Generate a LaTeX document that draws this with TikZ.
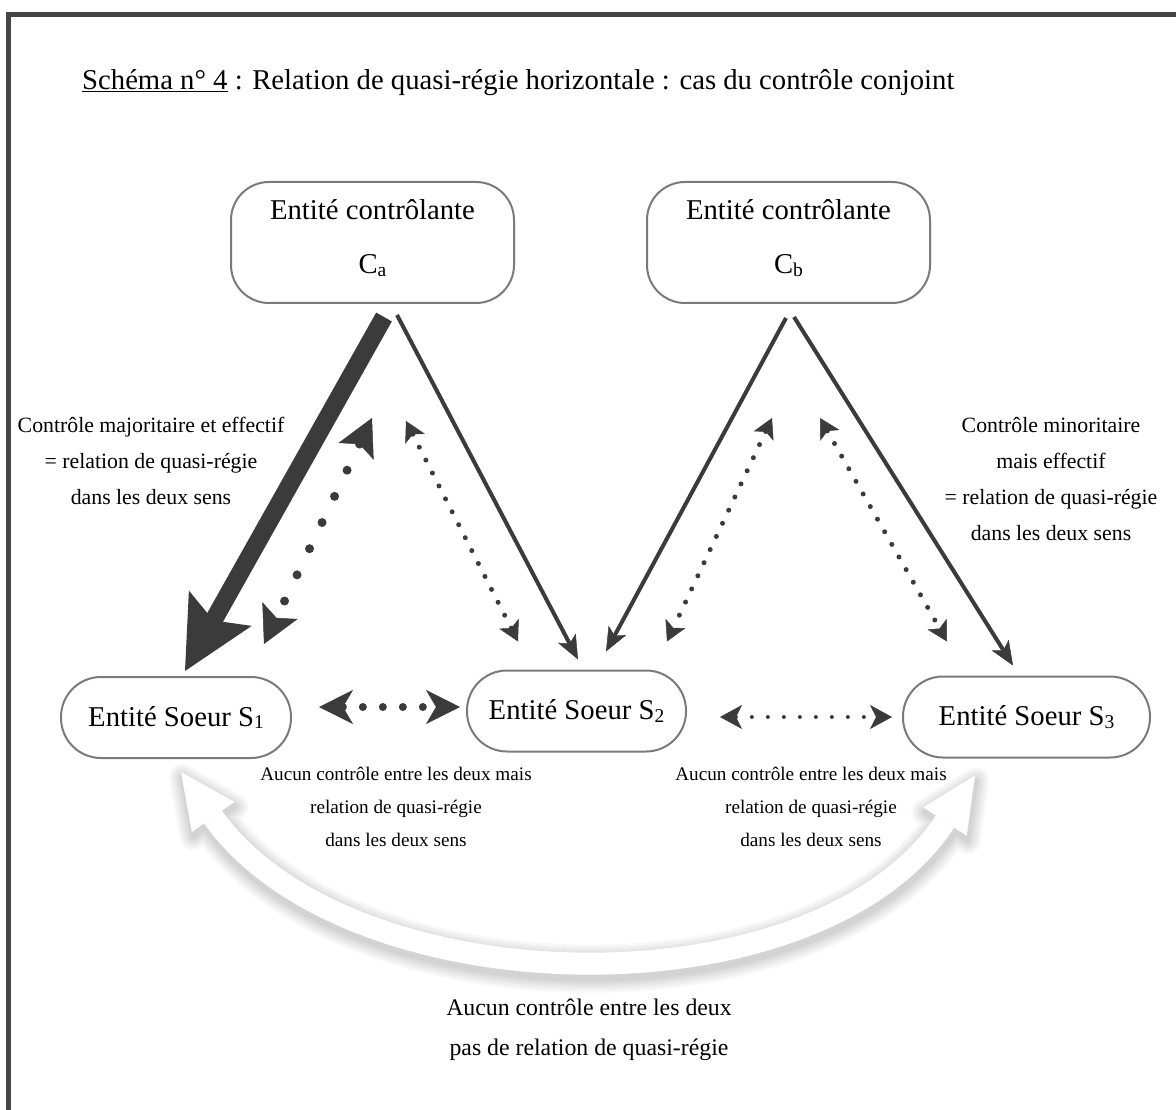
\documentclass[tikz,border=0pt]{standalone}
\usepackage{fontspec}
\setmainfont{Liberation Serif}
\usetikzlibrary{arrows.meta,calc}
\definecolor{ink}{HTML}{3B3B3B}
\definecolor{boxline}{HTML}{7A7A7A}
\definecolor{framecol}{HTML}{454545}
\newcommand\mysub[1]{\raisebox{-0.1em}{\fontsize{19.5}{19.5}\selectfont #1}}
\begin{document}
\begin{tikzpicture}[x=1pt,y=-1pt,
  ctrl/.style={draw=boxline, line width=2pt, rounded corners=38pt, minimum width=283pt, minimum height=121pt, inner sep=0pt, align=center, text depth=12pt, font=\fontsize{28.7}{54}\selectfont},
  sister/.style={draw=boxline, line width=2pt, rounded corners=40pt, minimum height=81pt, inner sep=0pt, font=\fontsize{28.7}{34}\selectfont},
  lbl/.style={align=center, inner sep=0pt, font=\fontsize{21.8}{36}\selectfont},
  lblsm/.style={align=center, inner sep=0pt, font=\fontsize{19.2}{33}\selectfont},
  lblbig/.style={align=center, inner sep=0pt, font=\fontsize{23.8}{40}\selectfont},
  thin/.style={ink, line width=4pt, -{Stealth[length=24pt,width=20pt,inset=6pt,line width=0.5pt]}},
  bigdots/.style={ink, line width=9pt, line cap=round, dash pattern=on 0pt off 29pt,
     {Stealth[length=37pt,width=39pt,inset=8pt,line width=0.5pt]}-{Stealth[length=37pt,width=39pt,inset=8pt,line width=0.5pt]}},
  smalldots/.style={ink, line width=5pt, line cap=round, dash pattern=on 0pt off 14.5pt,
     {Stealth[length=20pt,width=22pt,inset=5pt,line width=0.5pt]}-{Stealth[length=20pt,width=22pt,inset=5pt,line width=0.5pt]}},
  hdots/.style={ink, line width=8pt, line cap=round, dash pattern=on 0pt off 20pt,
     {Stealth[length=34pt,width=34pt,inset=10pt,line width=0.5pt]}-{Stealth[length=34pt,width=34pt,inset=10pt,line width=0.5pt]}},
  hdotsmall/.style={ink, line width=4pt, line cap=round, dash pattern=on 0pt off 16pt,
     {Stealth[length=22pt,width=24pt,inset=6pt,line width=0.5pt]}-{Stealth[length=22pt,width=24pt,inset=6pt,line width=0.5pt]}}
]
\useasboundingbox (0,0) rectangle (1176,1110);
% frame
\draw[framecol, line width=5pt] (8.5,1112) -- (8.5,14.5) -- (1178,14.5);

% title
\node[anchor=base west, inner sep=0pt, font=\fontsize{28.7}{34}\selectfont] (title) at (82,90)
  {\underline{Schéma n° 4} : Relation de quasi-régie horizontale : cas du contrôle conjoint};

% nodes
\node[ctrl] (Ca) at (372.5,242.5) {Entité contrôlante\\C\mysub{a}};
\node[ctrl] (Cb) at (788.5,242.5) {Entité contrôlante\\C\mysub{b}};
\node[sister, minimum width=230pt] (S1) at (176,717.5) {Entité Soeur S\mysub{1}};
\node[sister, minimum width=219pt] (S2) at (576.5,711) {Entité Soeur S\mysub{2}};
\node[sister, minimum width=247pt] (S3) at (1026.5,717) {Entité Soeur S\mysub{3}};

% white curved double arrow S1 <-> S3 with soft shadow
\coordinate (T1) at ($(S1.south)+(5,13)$);
\coordinate (B1) at ($(T1)+(32,45)$);
\coordinate (L1a) at ($(B1)+(21.2,-15.1)$);
\coordinate (L1b) at ($(B1)+(-21.2,15.1)$);
\coordinate (C1) at ($(B1)+(135,190)$);
\coordinate (T2) at ($(S3.south)+(-51.5,17)$);
\coordinate (B2) at ($(T2)+(-30,46)$);
\coordinate (R2a) at ($(B2)+(21.7,14.3)$);
\coordinate (R2b) at ($(B2)+(-21.7,-14.3)$);
\coordinate (C2) at ($(B2)+(-128,195)$);
\begin{scope}[transform canvas={shift={(1,5)}}]
\foreach \w in {26,21,16,12,8,4} {
  \begin{scope}[transparency group, opacity=0.032]
    \draw[black, line width={(22+\w)*1pt}] (B1) .. controls (C1) and (C2) .. (B2);
    \filldraw[black, line width=\w pt, line join=round] (T1) -- (L1a) -- (L1b) -- cycle;
    \filldraw[black, line width=\w pt, line join=round] (T2) -- (R2a) -- (R2b) -- cycle;
  \end{scope}
}
\end{scope}
\draw[white, line width=22pt] (B1) .. controls (C1) and (C2) .. (B2);
\fill[white] (T1) -- (L1a) -- (L1b) -- cycle;
\fill[white] (T2) -- (R2a) -- (R2b) -- cycle;

% thick arrow
\draw[ink, line width=18pt, -{Stealth[length=72pt,width=72pt,inset=14pt,line width=0pt]}]
  ($(Ca.south)+(11.5,13)$) -- ($(S1.north)+(9,-5)$);
% thin arrows
\draw[thin] ($(Ca.south)+(24.5,11)$) -- ($(S2.north)+(1.5,-10)$);
\draw[thin] ($(Cb.south)+(-2.5,14)$) -- ($(S2.north)+(29.5,-18)$);
\draw[thin] ($(Cb.south)+(5.5,13)$) -- ($(S3.north)+(-13.5,-10)$);
% dotted
\draw[bigdots] ($(Ca.south)+(-0.5,114)$) -- ($(S1.north)+(88,-32)$);
\draw[smalldots] ($(Ca.south)+(33.5,117)$) -- ($(S2.north)+(-58.5,-28)$);
\draw[smalldots] ($(Cb.south)+(-16.5,114)$) -- ($(S2.north)+(90.5,-28)$);
\draw[smalldots] ($(Cb.south)+(31.5,114)$) -- ($(S3.north)+(-79.5,-34)$);
\draw[hdots] ($(S1.east)+(27,-10.5)$) -- ($(S2.west)+(-6,-4)$);
\draw[hdotsmall] ($(S2.east)+(33,6)$) -- ($(S3.west)+(-10,0)$);

% labels
\node[lbl] (lblL) at (151,461) {Contrôle majoritaire et effectif\\= relation de quasi-régie\\dans les deux sens};
\node[lbl] (lblR) at (1051,479) {Contrôle minoritaire\\mais effectif\\= relation de quasi-régie\\dans les deux sens};
\node[lblsm] (lblBL) at (396,807) {Aucun contrôle entre les deux mais\\relation de quasi-régie\\dans les deux sens};
\node[lblsm] (lblBR) at (811,807) {Aucun contrôle entre les deux mais\\relation de quasi-régie\\dans les deux sens};
\node[lblbig] (lblB) at (589,1030) {Aucun contrôle entre les deux\\pas de relation de quasi-régie};
\end{tikzpicture}
\end{document}
